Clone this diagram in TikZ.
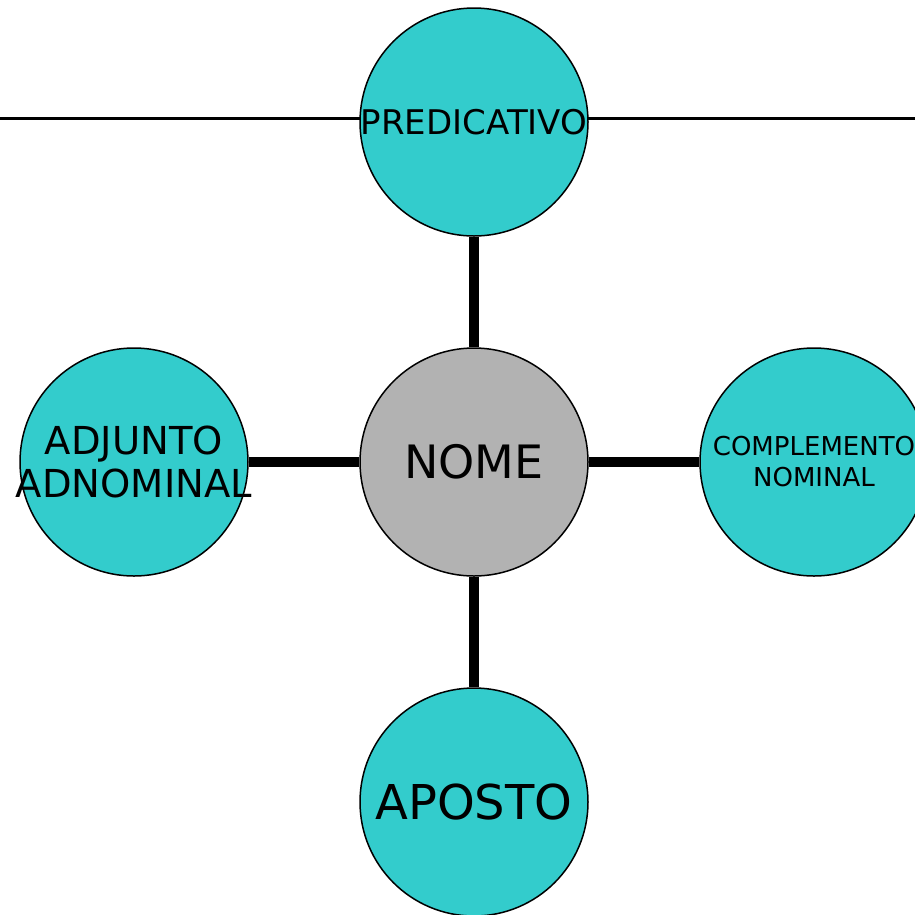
\documentclass[tikz,border=0pt]{standalone}
\usepackage{fontspec}
\setmainfont{DejaVu Sans}
\usepackage{tikz}
\usepackage{xcolor}
\usetikzlibrary{positioning}
\definecolor{turquesa}{HTML}{33CCCC}
\definecolor{cinza}{HTML}{B2B2B2}
\tikzstyle{termo} = [
    circle,
    draw=black,
    fill=turquesa,
    line width=1.5pt,
    minimum size=228pt,
    inner sep=0pt,
    align=center,
    text=black
    ]
\tikzstyle{nucleo} = [
    termo,
    fill=cinza
    ]
\tikzstyle{ligacao} = [
    line width=10pt,
    black
    ]
\newcommand{\tam}[2]{\fontsize{#1}{#2}\selectfont}

\begin{document}
\begin{tikzpicture}[x=1pt, y=-1pt, node distance=340pt, on grid]
\useasboundingbox (0,0) rectangle (915,914);
% linha de fundo
\coordinate (esq) at (0,118);
\coordinate (dir) at (915,118);
\draw[line width=3pt] (esq) -- (dir);

\node [nucleo, font=\tam{46}{52}] (nome) at (474,462) {NOME};
\node [termo, above=of nome, font=\tam{34}{40}] (predicativo) {PREDICATIVO};
\node [termo, left=of nome, font=\tam{38.5}{43}, inner xsep=-18pt] (adjunto) {ADJUNTO\\ADNOMINAL};
\node [termo, right=of nome, font=\tam{26}{31}] (complemento) {COMPLEMENTO\\NOMINAL};
\node [termo, below=of nome, font=\tam{48}{54}] (aposto) {APOSTO};

\draw[ligacao] (nome) -- (predicativo);
\draw[ligacao] (nome) -- (adjunto);
\draw[ligacao] (nome) -- (complemento);
\draw[ligacao] (nome) -- (aposto);
\end{tikzpicture}
\end{document}
